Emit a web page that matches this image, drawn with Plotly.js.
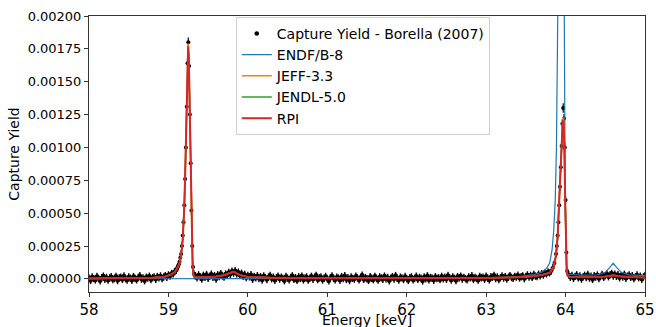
<!DOCTYPE html>
<html>
<head>
<meta charset="utf-8">
<script src="https://cdn.plot.ly/plotly-3.0.1.min.js"></script>
<style>html,body{margin:0;padding:0;background:#fff;}#chart{width:656px;height:327px;}</style>
</head>
<body>
<div id="chart"></div>
<script>
// ---- Measured capture yield (Borella 2007): off-resonance points ----
const baseEnergy = [
  58.00,58.02,58.04,58.06,58.08,58.10,58.12,58.14,58.16,58.18,
  58.20,58.22,58.24,58.26,58.28,58.30,58.32,58.34,58.36,58.38,
  58.40,58.42,58.44,58.46,58.48,58.50,58.52,58.54,58.56,58.58,
  58.60,58.62,58.64,58.66,58.68,58.70,58.72,58.74,58.76,58.78,
  58.80,58.82,58.84,58.86,58.88,58.90,58.92,58.94,58.96,58.98,
  59.00,59.02,59.04,59.06,59.08,
  59.34,59.36,59.38,59.40,59.42,59.44,59.46,59.48,59.50,59.52,
  59.54,59.56,59.58,59.60,59.62,59.64,59.66,59.68,59.70,59.72,
  59.74,59.76,59.78,59.80,59.82,59.84,59.86,59.88,59.90,59.92,
  59.94,59.96,59.98,60.00,60.02,60.04,60.06,60.08,60.10,60.12,
  60.14,60.16,60.18,60.20,60.22,60.24,60.26,60.28,60.30,60.32,
  60.34,60.36,60.38,60.40,60.42,60.44,60.46,60.48,60.50,60.52,
  60.54,60.56,60.58,60.60,60.62,60.64,60.66,60.68,60.70,60.72,
  60.74,60.76,60.78,60.80,60.82,60.84,60.86,60.88,60.90,60.92,
  60.94,60.96,60.98,61.00,61.02,61.04,61.06,61.08,61.10,61.12,
  61.14,61.16,61.18,61.20,61.22,61.24,61.26,61.28,61.30,61.32,
  61.34,61.36,61.38,61.40,61.42,61.44,61.46,61.48,61.50,61.52,
  61.54,61.56,61.58,61.60,61.62,61.64,61.66,61.68,61.70,61.72,
  61.74,61.76,61.78,61.80,61.82,61.84,61.86,61.88,61.90,61.92,
  61.94,61.96,61.98,62.00,62.02,62.04,62.06,62.08,62.10,62.12,
  62.14,62.16,62.18,62.20,62.22,62.24,62.26,62.28,62.30,62.32,
  62.34,62.36,62.38,62.40,62.42,62.44,62.46,62.48,62.50,62.52,
  62.54,62.56,62.58,62.60,62.62,62.64,62.66,62.68,62.70,62.72,
  62.74,62.76,62.78,62.80,62.82,62.84,62.86,62.88,62.90,62.92,
  62.94,62.96,62.98,63.00,63.02,63.04,63.06,63.08,63.10,63.12,
  63.14,63.16,63.18,63.20,63.22,63.24,63.26,63.28,63.30,63.32,
  63.34,63.36,63.38,63.40,63.42,63.44,63.46,63.48,63.50,63.52,
  63.54,63.56,63.58,63.60,63.62,63.64,63.66,63.68,63.70,63.72,
  63.74,63.76,63.78,
  64.04,64.06,64.08,64.10,64.12,64.14,64.16,64.18,64.20,64.22,
  64.24,64.26,64.28,64.30,64.32,64.34,64.36,64.38,64.40,64.42,
  64.44,64.46,64.48,64.50,64.52,64.54,64.56,64.58,64.60,64.62,
  64.64,64.66,64.68,64.70,64.72,64.74,64.76,64.78,64.80,64.82,
  64.84,64.86,64.88,64.90,64.92,64.94,64.96,64.98,65.00
];
const baseYield = [
  6e-6,-12e-6,15e-6,2e-6,-8e-6,18e-6,4e-6,-15e-6,9e-6,21e-6,
  -3e-6,11e-6,-10e-6,7e-6,16e-6,-6e-6,3e-6,19e-6,-13e-6,8e-6,
  12e-6,-4e-6,22e-6,1e-6,-9e-6,14e-6,5e-6,-11e-6,17e-6,3e-6,
  -7e-6,10e-6,24e-6,-2e-6,8e-6,-14e-6,13e-6,6e-6,20e-6,-5e-6,
  9e-6,15e-6,-3e-6,18e-6,7e-6,22e-6,2e-6,14e-6,25e-6,12e-6,
  30e-6,22e-6,41e-6,38e-6,56e-6,
  24e-6,8e-6,30e-6,14e-6,-2e-6,27e-6,11e-6,33e-6,5e-6,19e-6,
  36e-6,12e-6,25e-6,-1e-6,31e-6,18e-6,40e-6,22e-6,13e-6,37e-6,
  29e-6,48e-6,35e-6,58e-6,44e-6,62e-6,39e-6,51e-6,27e-6,43e-6,
  20e-6,34e-6,9e-6,26e-6,15e-6,31e-6,-3e-6,19e-6,8e-6,24e-6,
  3e-6,17e-6,-9e-6,22e-6,10e-6,-5e-6,14e-6,26e-6,1e-6,12e-6,
  -11e-6,8e-6,20e-6,-2e-6,13e-6,4e-6,-14e-6,18e-6,6e-6,-7e-6,
  11e-6,23e-6,-4e-6,9e-6,-12e-6,16e-6,2e-6,21e-6,-8e-6,7e-6,
  15e-6,-10e-6,4e-6,19e-6,-3e-6,12e-6,27e-6,-6e-6,8e-6,14e-6,
  -9e-6,5e-6,18e-6,0,-15e-6,10e-6,22e-6,3e-6,-7e-6,13e-6,
  6e-6,-11e-6,17e-6,2e-6,24e-6,-5e-6,9e-6,-13e-6,15e-6,4e-6,
  -2e-6,20e-6,7e-6,-8e-6,12e-6,28e-6,-4e-6,10e-6,1e-6,-12e-6,
  16e-6,5e-6,-6e-6,19e-6,3e-6,-10e-6,14e-6,8e-6,-3e-6,21e-6,
  0,11e-6,-14e-6,6e-6,17e-6,-1e-6,25e-6,4e-6,-9e-6,13e-6,
  7e-6,-5e-6,18e-6,2e-6,-12e-6,9e-6,15e-6,-7e-6,3e-6,20e-6,
  -4e-6,11e-6,6e-6,-16e-6,14e-6,1e-6,23e-6,-8e-6,10e-6,5e-6,
  -11e-6,16e-6,3e-6,8e-6,-6e-6,19e-6,0,12e-6,-3e-6,26e-6,
  9e-6,-9e-6,14e-6,4e-6,-13e-6,17e-6,6e-6,21e-6,-2e-6,11e-6,
  1e-6,-7e-6,15e-6,7e-6,24e-6,-4e-6,10e-6,3e-6,-10e-6,18e-6,
  8e-6,13e-6,-3e-6,20e-6,5e-6,-8e-6,16e-6,11e-6,27e-6,2e-6,
  14e-6,-5e-6,9e-6,22e-6,6e-6,17e-6,-1e-6,12e-6,25e-6,10e-6,
  4e-6,19e-6,13e-6,28e-6,7e-6,16e-6,23e-6,2e-6,18e-6,30e-6,
  14e-6,26e-6,11e-6,33e-6,21e-6,17e-6,35e-6,24e-6,40e-6,29e-6,
  45e-6,38e-6,52e-6,
  30e-6,12e-6,26e-6,4e-6,19e-6,31e-6,8e-6,22e-6,-2e-6,15e-6,
  27e-6,10e-6,33e-6,6e-6,20e-6,-4e-6,24e-6,14e-6,29e-6,3e-6,
  18e-6,34e-6,11e-6,25e-6,38e-6,16e-6,30e-6,42e-6,22e-6,36e-6,
  19e-6,32e-6,8e-6,27e-6,14e-6,35e-6,5e-6,21e-6,29e-6,11e-6,
  24e-6,2e-6,17e-6,30e-6,9e-6,20e-6,-3e-6,15e-6,26e-6
];
const baseError = 28e-6;

// ---- Measured capture yield: points across the two resonances ----
const peakEnergy = [
  59.10,59.11,59.12,59.13,59.14,59.15,59.16,59.17,59.18,59.19,
  59.20,59.21,59.22,59.23,59.24,59.25,59.26,59.27,59.28,59.29,
  59.30,59.31,59.32,59.33,
  63.80,63.82,63.84,63.86,63.88,63.89,63.90,63.91,63.92,63.93,
  63.94,63.95,63.96,63.97,63.98,63.99,64.00,64.01,64.02
];
const peakYield = [
  65e-6,80e-6,95e-6,110e-6,130e-6,160e-6,190e-6,250e-6,330e-6,430e-6,
  560e-6,760e-6,1000e-6,1310e-6,1640e-6,1800e-6,1620e-6,1250e-6,880e-6,520e-6,
  250e-6,90e-6,40e-6,25e-6,
  45e-6,60e-6,85e-6,120e-6,190e-6,250e-6,330e-6,430e-6,560e-6,700e-6,
  850e-6,1010e-6,1180e-6,1300e-6,1220e-6,1000e-6,600e-6,200e-6,60e-6
];
const peakError = [
  28e-6,28e-6,28e-6,28e-6,28e-6,29e-6,29e-6,29e-6,30e-6,30e-6,
  31e-6,32e-6,33e-6,34e-6,35e-6,36e-6,35e-6,34e-6,32e-6,31e-6,
  30e-6,29e-6,28e-6,28e-6,
  28e-6,28e-6,28e-6,28e-6,29e-6,29e-6,30e-6,30e-6,31e-6,32e-6,
  33e-6,34e-6,35e-6,36e-6,35e-6,34e-6,31e-6,29e-6,28e-6
];

// ---- Evaluated yields (RPI / JEFF / JENDL share one energy grid) ----
const evalEnergy = [
  58.0,58.5,58.8,58.95,59.03,59.08,59.11,59.14,59.16,59.18,
  59.20,59.215,59.23,59.24,59.248,59.256,59.265,59.275,59.285,59.295,
  59.305,59.315,59.33,59.4,59.6,59.7,59.78,59.82,59.86,59.92,
  60.0,60.3,61.0,62.0,63.0,63.4,63.6,63.7,63.8,63.85,
  63.88,63.90,63.92,63.94,63.955,63.965,63.975,63.985,63.995,64.005,
  64.015,64.03,64.06,64.3,64.5,64.6,64.7,64.9,65.0
];
const rpiYield = [
  0.000003,0.000004,0.000008,0.000016,0.000032,0.000052,0.00008,0.00012,0.00018,0.0003,
  0.00055,0.0009,0.00135,0.00166,0.00177,0.0017,0.0014,0.001,0.0006,0.0003,
  0.0001,0.00003,0.000016,0.000013,0.000018,0.000028,0.000045,0.000055,0.000042,0.000025,
  0.000015,0.000009,0.000004,0.000003,0.000006,0.000012,0.00002,0.00003,0.000045,0.00009,
  0.00018,0.00032,0.00058,0.00088,0.00112,0.00121,0.00118,0.001,0.0006,0.00022,
  0.00005,0.00002,0.000015,0.000012,0.000018,0.000028,0.000017,0.000012,0.000011
];
const jeffYield = [
  0.000003,0.000004,0.000008,0.000016,0.000031,0.000051,0.00008,0.00012,0.00018,0.0003,
  0.00056,0.00092,0.00137,0.00168,0.00179,0.00172,0.00141,0.001,0.0006,0.0003,
  0.0001,0.00003,0.000016,0.000013,0.000018,0.000028,0.000044,0.000054,0.000041,0.000025,
  0.000015,0.000009,0.000004,0.000003,0.000006,0.000012,0.00002,0.00003,0.000046,0.00009,
  0.00018,0.00033,0.00059,0.0009,0.00114,0.00123,0.0012,0.00101,0.0006,0.00022,
  0.00005,0.00002,0.000015,0.000012,0.000018,0.000027,0.000017,0.000012,0.000011
];
const jendlYield = [
  0.000003,0.000004,0.000008,0.000016,0.000032,0.000052,0.00008,0.00012,0.00018,0.0003,
  0.00055,0.0009,0.00134,0.00165,0.00176,0.00169,0.00139,0.001,0.0006,0.0003,
  0.0001,0.00003,0.000016,0.000013,0.000018,0.000028,0.000045,0.000055,0.000042,0.000025,
  0.000015,0.000009,0.000004,0.000003,0.000006,0.000012,0.00002,0.00003,0.000045,0.00009,
  0.00018,0.00032,0.00058,0.00087,0.00111,0.0012,0.00117,0.00099,0.0006,0.00022,
  0.00005,0.00002,0.000015,0.000012,0.000018,0.000028,0.000017,0.000012,0.000011
];

// ---- ENDF/B-8 ----
const endfEnergy = [
  58.0,59.0,60.0,61.0,62.0,63.0,63.4,63.6,63.7,63.76,
  63.80,63.83,63.85,63.87,63.885,63.895,63.905,63.92,63.94,63.955,
  63.965,63.975,63.985,63.995,64.005,64.015,64.03,64.2,64.4,64.5,
  64.56,64.6,64.64,64.7,64.8,65.0
];
const endfYield = [
  0.000001,0.000001,0.000001,0.000002,0.000003,0.000008,0.000018,0.000032,0.00005,0.00008,
  0.00012,0.00022,0.00036,0.0006,0.001,0.0016,0.0024,0.0036,0.0048,0.0052,
  0.0046,0.003,0.0016,0.0007,0.00018,0.00005,0.000035,0.000028,0.00003,0.00005,
  0.00009,0.00012,0.00009,0.00005,0.00003,0.000025
];

const legendLabels = ["Capture Yield - Borella (2007)", "ENDF/B-8", "JEFF-3.3", "JENDL-5.0", "RPI"];
const xTicks = [58, 59, 60, 61, 62, 63, 64, 65];
const xTitle = 'Energy [keV]';
const yTitle = 'Capture Yield';

const traces = [
  {x: baseEnergy, y: baseYield, name: legendLabels[0], legendgroup: 'data', type: 'scatter', mode: 'markers',
   marker: {color: '#000', size: 4.5},
   error_y: {type: 'constant', value: baseError, visible: true, color: '#000', thickness: 1.4, width: 0}},
  {x: peakEnergy, y: peakYield, name: legendLabels[0], legendgroup: 'data', showlegend: false,
   type: 'scatter', mode: 'markers',
   marker: {color: '#000', size: 4},
   error_y: {type: 'data', array: peakError, visible: true, color: '#000', thickness: 1.2, width: 0}},
  {x: endfEnergy, y: endfYield, name: legendLabels[1], type: 'scatter', mode: 'lines',
   line: {color: '#1f77b4', width: 1.2}},
  {x: evalEnergy, y: jeffYield, name: legendLabels[2], type: 'scatter', mode: 'lines',
   line: {color: '#ff7f0e', width: 1.5}},
  {x: evalEnergy, y: jendlYield, name: legendLabels[3], type: 'scatter', mode: 'lines',
   line: {color: '#2ca02c', width: 1.5}},
  {x: evalEnergy, y: rpiYield, name: legendLabels[4], type: 'scatter', mode: 'lines',
   line: {color: '#d62728', width: 2}}
];

const layout = {
  width: 656, height: 327,
  margin: {l: 89, r: 11, t: 16, b: 35},
  paper_bgcolor: '#fff', plot_bgcolor: '#fff',
  font: {family: 'DejaVu Sans', color: '#000'},
  showlegend: true,
  legend: {x: 0.264, y: 0.997, xanchor: 'left', yanchor: 'top',
           bgcolor: 'rgba(255,255,255,0.85)', bordercolor: '#d0d0d0', borderwidth: 1,
           font: {size: 14, family: 'DejaVu Sans'}, tracegroupgap: 0},
  xaxis: {range: [58, 65], tickvals: xTicks, ticktext: xTicks.map(String),
          showgrid: false, zeroline: false, showline: true, linecolor: '#333', linewidth: 1,
          mirror: true, ticks: 'outside', ticklen: 4, tickcolor: '#333',
          tickfont: {size: 15, family: 'DejaVu Sans'}},
  yaxis: {range: [-0.0001, 0.002], tick0: 0, dtick: 0.00025, tickformat: '.5f',
          showgrid: false, zeroline: false, showline: true, linecolor: '#333', linewidth: 1,
          mirror: true, ticks: 'outside', ticklen: 4, tickcolor: '#333',
          tickfont: {size: 13, family: 'DejaVu Sans'},
          title: {text: yTitle, font: {size: 14, family: 'DejaVu Sans'}, standoff: 4}},
  annotations: [
    {text: xTitle, xref: 'paper', yref: 'paper', x: 0.5, y: -0.103, xanchor: 'center', yanchor: 'middle',
     showarrow: false, font: {size: 14, family: 'DejaVu Sans', color: '#000'}}
  ]
};

Plotly.newPlot('chart', traces, layout, {displayModeBar: false, staticPlot: true});
</script>
</body>
</html>
